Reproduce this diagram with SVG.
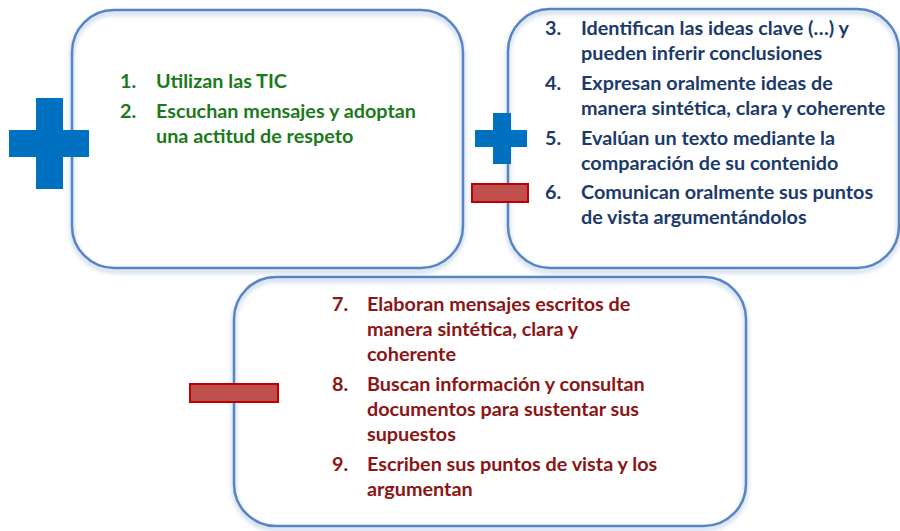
<svg xmlns="http://www.w3.org/2000/svg" width="900" height="531" viewBox="0 0 900 531">
<defs>
<filter id="glow" x="-10%" y="-10%" width="120%" height="125%">
<feGaussianBlur in="SourceAlpha" stdDeviation="2.5"/>
<feOffset dx="0" dy="3" result="b"/>
<feFlood flood-color="#9DB7DC" flood-opacity="0.9"/>
<feComposite in2="b" operator="in" result="s"/>
<feMerge><feMergeNode in="s"/><feMergeNode in="SourceGraphic"/></feMerge>
</filter>
</defs>
<style>
.box{fill:none;stroke:#5585C5;stroke-width:2.5}
.plus{fill:#0070C0}
.minus{fill:#C0504D;stroke:#C00000;stroke-width:2}
text{font-family:Lato,"Open Sans","Liberation Sans",sans-serif;font-weight:bold;font-size:19.8px}
.g{fill:#1A7A1A}
.n{fill:#1B3A6B}
.r{fill:#8B1414}
</style>
<rect width="900" height="531" fill="#FFFFFF"/>
<g id="box1">
<rect class="box" filter="url(#glow)" x="72" y="10" width="391" height="258" rx="42"/>
<text class="g"><tspan x="120" y="88">1.</tspan><tspan x="156" y="88">Utilizan las TIC</tspan><tspan x="120" y="118">2.</tspan><tspan x="156" y="118">Escuchan mensajes y adoptan</tspan><tspan x="156" y="143">una actitud de respeto</tspan></text>
</g>
<g id="box2">
<rect class="box" filter="url(#glow)" x="508" y="9" width="391" height="259" rx="42"/>
<text class="n"><tspan x="545" y="35">3.</tspan><tspan x="581" y="35">Identifican las ideas clave (…) y</tspan><tspan x="581" y="60">pueden inferir conclusiones</tspan><tspan x="545" y="90">4.</tspan><tspan x="581" y="90">Expresan oralmente ideas de</tspan><tspan x="581" y="115">manera sintética, clara y coherente</tspan><tspan x="545" y="145">5.</tspan><tspan x="581" y="145">Evalúan un texto mediante la</tspan><tspan x="581" y="170">comparación de su contenido</tspan><tspan x="545" y="199">6.</tspan><tspan x="581" y="199">Comunican oralmente sus puntos</tspan><tspan x="581" y="224">de vista argumentándolos</tspan></text>
</g>
<g id="box3">
<rect class="box" filter="url(#glow)" x="234" y="277" width="512" height="249" rx="42"/>
<text class="r"><tspan x="332" y="311">7.</tspan><tspan x="367" y="311">Elaboran mensajes escritos de</tspan><tspan x="367" y="336">manera sintética, clara y</tspan><tspan x="367" y="361">coherente</tspan><tspan x="332" y="391">8.</tspan><tspan x="367" y="391">Buscan información y consultan</tspan><tspan x="367" y="416">documentos para sustentar sus</tspan><tspan x="367" y="441">supuestos</tspan><tspan x="332" y="471">9.</tspan><tspan x="367" y="471">Escriben sus puntos de vista y los</tspan><tspan x="367" y="496">argumentan</tspan></text>
</g>
<g id="signs">
<path class="plus" d="M36,98H63V130H89V157H63V189H36V157H9V130H36Z"/>
<path class="plus" d="M493,113H511V130H527V147H511V164H493V147H475V130H493Z"/>
<rect class="minus" x="472" y="184" width="56" height="18"/>
<rect class="minus" x="190" y="384" width="88" height="18"/>
</g>
</svg>
